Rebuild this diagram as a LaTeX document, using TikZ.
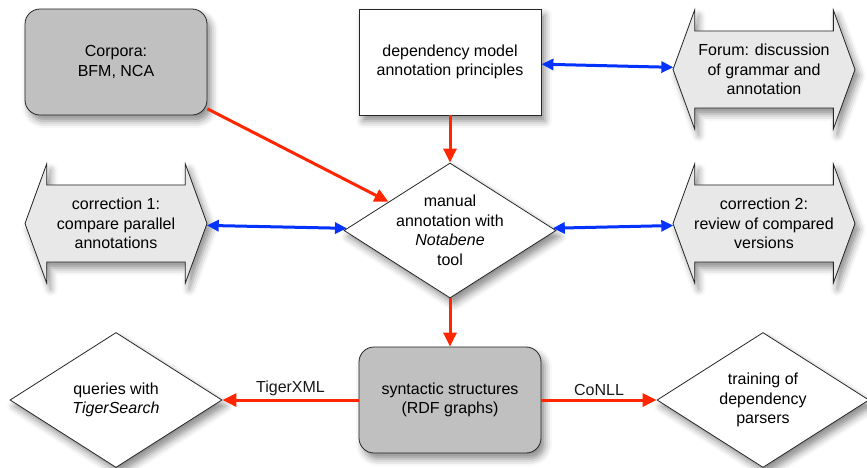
\documentclass[tikz,border=0pt]{standalone}
\usepackage{fontspec}
\setmainfont{Liberation Sans}
\usetikzlibrary{shapes.geometric,shapes.arrows,arrows.meta,shadows.blur}
\definecolor{flowred}{HTML}{FF2600}
\definecolor{flowblue}{HTML}{0433FF}
\definecolor{boxgray}{HTML}{C0C0C0}
\definecolor{talkgray}{HTML}{E8E8E8}

\begin{document}
\begin{tikzpicture}[x=1pt,y=-1pt,
        font=\fontsize{16}{19.5}\selectfont,
        shade/.style={blur shadow={shadow xshift=4pt,shadow yshift=-6pt,
            shadow blur radius=7pt,shadow opacity=45}},
        box/.style={draw=black!85,line width=.8pt,align=center,
            minimum width=182pt,minimum height=106pt,shade},
        data/.style={box,fill=boxgray,rounded corners=15pt},
        rule/.style={box,fill=white},
        talk/.style={draw=black!85,line width=.8pt,fill=talkgray,shade,
            align=center,double arrow,double arrow head extend=14pt,
            double arrow tip angle=140,minimum height=182pt,
            minimum width=119pt,inner sep=0pt},
        task/.style={draw=black!85,line width=.8pt,fill=white,shade,
            align=center,diamond,aspect=1.57,inner sep=-3pt,
            minimum width=212pt,minimum height=135pt},
        flow/.style={flowred,line width=3pt,-{Triangle[length=14pt,width=13pt]}},
        sync/.style={flowblue,line width=3pt,
            {Triangle[length=12pt,width=11pt]}-{Triangle[length=12pt,width=11pt]}},
        tag/.style={text=black!90,above=1pt,inner sep=2pt}]
        \useasboundingbox (0,0) rectangle (867,467);

        \node[data] (corpora) at (116,62) {Corpora:\\BFM, NCA};
        \node[rule] (model) at (450,62) {dependency model\\annotation principles};
        \node[talk] (forum) at (764,69.5) {Forum: discussion\\of grammar and\\annotation};
        \node[talk] (check1) at (116,223.5) {correction 1:\\compare parallel\\annotations};
        \node[task] (annot) at (450,230.5) {manual\\annotation with\\\textit{Notabene}\\tool};
        \node[talk] (check2) at (764,223.5) {correction 2:\\review of compared\\versions};
        \node[data] (syntax) at (450,400) {syntactic structures\\(RDF graphs)};
        \node[task] (queries) at (116,400) {queries with\\\textit{TigerSearch}};
        \node[task] (training) at (763,400) {training of\\dependency\\parsers};

        \draw[flow] (corpora) -- (annot.155);
        \draw[flow] (model) -- (annot);
        \draw[flow] (annot) -- (syntax);
        \draw[flow] (syntax) -- node[tag]{TigerXML} (queries);
        \draw[flow] (syntax) -- node[tag]{CoNLL} (training);
        \draw[sync] (model) -- (forum);
        \draw[sync] (check1) -- (annot);
        \draw[sync] (annot) -- (check2);
\end{tikzpicture}
\end{document}
